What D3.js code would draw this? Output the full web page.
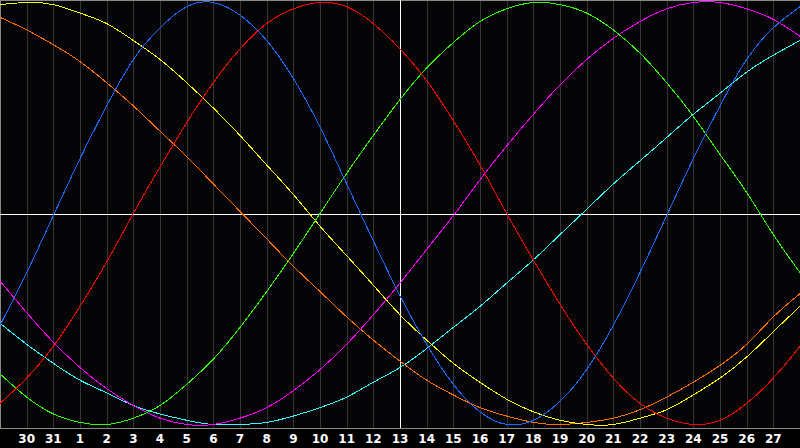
<!DOCTYPE html>
<html><head><meta charset="utf-8">
<script src="https://cdn.jsdelivr.net/npm/d3@7"></script>
<style>html,body{margin:0;padding:0;background:#000;}svg{display:block;}</style>
</head><body>
<svg id="c" width="800" height="448"></svg>
<script>
// Day labels at each gridline (index 1..29); index 0 and 30 are the edges
const days = ["29","30","31","1","2","3","4","5","6","7","8","9","10","11","12","13","14","15","16","17","18","19","20","21","22","23","24","25","26","27","28"];
// Cycle values in percent, read at each day gridline (index 0..30)
const physical = [-53,-28,-1,26,51,73,88,98,100,94,82,64,41,14,-13,-39,-62,-81,-94,-100,-98,-89,-74,-53,-28,-1,26,51,73,88,98];
const emotional = [-90,-78,-63,-44,-23,0,22,43,62,78,90,97,100,98,90,78,63,44,23,0,-22,-43,-62,-78,-90,-97,-100,-98,-90,-78,-63];
const intellectual = [-76,-87,-95,-99,-100,-97,-91,-81,-69,-54,-37,-19,0,19,37,54,69,81,91,97,100,99,95,87,76,62,46,28,10,-10,-28];
const intuitive = [-32,-47,-61,-73,-83,-91,-97,-100,-100,-97,-92,-84,-74,-62,-48,-33,-17,-1,16,32,47,61,73,83,91,97,100,100,97,92,84];
const aesthetic = [99,100,99,95,90,82,73,62,50,37,23,9,-6,-20,-34,-48,-60,-71,-80,-88,-94,-98,-100,-100,-97,-93,-86,-78,-68,-56,-44];
const awareness = [93,87,80,72,62,51,39,27,14,1,-12,-25,-37,-49,-60,-70,-79,-86,-92,-96,-99,-100,-99,-97,-93,-87,-80,-72,-62,-49,-38];
const spiritual = [-52,-62,-71,-79,-85,-91,-95,-98,-100,-100,-99,-96,-92,-87,-80,-73,-64,-54,-44,-33,-22,-10,2,14,25,36,47,57,67,75,82];

const seriesList = [
  {name:"spiritual", values:spiritual, color:"#33ffff"},
  {name:"awareness", values:awareness, color:"#ff7000"},
  {name:"aesthetic", values:aesthetic, color:"#ffff00"},
  {name:"intuitive", values:intuitive, color:"#ff00ff"},
  {name:"intellectual", values:intellectual, color:"#33ff00"},
  {name:"emotional", values:emotional, color:"#ff0000"},
  {name:"physical", values:physical, color:"#1a6cff"}
];

const W = 800, H = 448, plotBottom = 428;
const svg = d3.select("#c");
svg.append("rect").attr("width",W).attr("height",H).attr("fill","#000000");
svg.append("rect").attr("x",0).attr("y",0).attr("width",W).attr("height",plotBottom).attr("fill","#050508");

const x = d3.scaleLinear().domain([0, days.length-1]).range([0, W]);
const y = d3.scaleLinear().domain([-100, 100]).range([424.5, 2.5]);

const idx = d3.range(1, days.length-1);
// gridlines
svg.append("g").selectAll("line").data(idx.filter(i => i !== 15)).join("line")
  .attr("x1", i => Math.round(x(i)) + 0.5).attr("x2", i => Math.round(x(i)) + 0.5)
  .attr("y1", 0).attr("y2", plotBottom)
  .attr("stroke", "#353535").attr("stroke-width", 1).attr("shape-rendering","crispEdges");

// border (top, left, bottom)
svg.append("path").attr("d", `M${W},0.5H0.5V${plotBottom+0.5}H${W}`)
  .attr("fill","none").attr("stroke","#8a8a8a").attr("stroke-width",1).attr("shape-rendering","crispEdges");

// center cross lines
svg.append("line").attr("x1", Math.round(x(15))+0.5).attr("x2", Math.round(x(15))+0.5)
  .attr("y1",0).attr("y2",plotBottom).attr("stroke","#ffffff").attr("shape-rendering","crispEdges");
svg.append("line").attr("x1",0).attr("x2",W).attr("y1",Math.round(y(0))+0.5).attr("y2",Math.round(y(0))+0.5)
  .attr("stroke","#ffffff").attr("shape-rendering","crispEdges");

// curves
const line = d3.line().x((d,i) => x(i)).y(d => y(d)).curve(d3.curveNatural);
svg.append("g").selectAll("path").data(seriesList).join("path")
  .attr("d", s => line(s.values))
  .attr("fill","none").attr("stroke", s => s.color).attr("stroke-width",1)
  .attr("shape-rendering","crispEdges");

// labels
svg.append("g").selectAll("text").data(idx).join("text")
  .attr("x", i => x(i)).attr("y", 443)
  .attr("text-anchor","middle")
  .attr("fill","#ffffff")
  .attr("font-family","'DejaVu Sans', sans-serif")
  .attr("font-weight","bold")
  .attr("font-size","12px")
  .text(i => days[i]);
</script>
</body></html>
